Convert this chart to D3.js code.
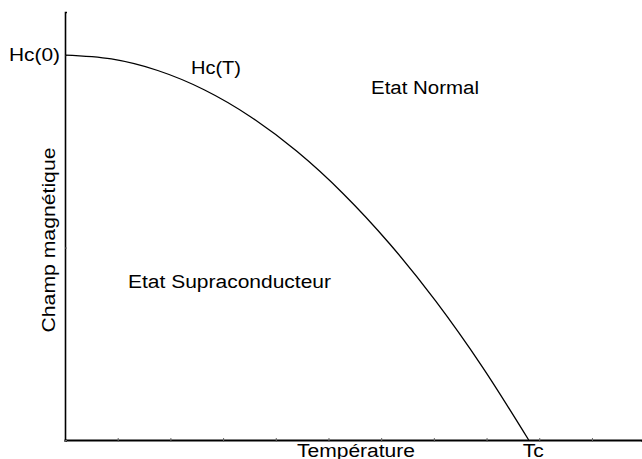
<!DOCTYPE html>
<html>
<head>
<meta charset="utf-8">
<script src="https://cdn.jsdelivr.net/npm/d3@7"></script>
<style>
  body { margin: 0; background: #fff; }
  text { font-family: "Liberation Sans", Arial, sans-serif; fill: #000; }
</style>
</head>
<body>
<div id="chart"></div>
<script>
// temperature in tick units, critical temperature Tc = 8.8
const temps = [0, 0.88, 1.76, 2.64, 3.52, 4.4, 5.28, 6.16, 7.04, 7.92, 8.8];
// critical field, relative to Hc(0)
const fields = [1, 0.99, 0.96, 0.91, 0.84, 0.75, 0.64, 0.51, 0.36, 0.19, 0];
const xTicks = [0, 1, 2, 3, 4, 5, 6, 7, 8, 9, 10];
const yTicks = [0, 0.5, 1];
const tcValue = 8.8;
const hc0Value = 1;

const width = 642, height = 459;

const svg = d3.select("#chart")
    .append("svg")
    .attr("width", width)
    .attr("height", height);

const x = d3.scaleLinear().domain([0, 10.95]).range([65, 642]);
const y = d3.scaleLinear().domain([0, 1.112]).range([440, 12]);

// axes
const xAxis = svg.append("g")
    .attr("transform", "translate(0," + y(0) + ")")
    .call(d3.axisBottom(x).tickValues(xTicks).tickSize(2).tickFormat(""));
xAxis.select(".domain").attr("stroke", "#000").attr("stroke-width", 2);
xAxis.selectAll(".tick line").attr("stroke", "#666").attr("y1", -2);

const yAxis = svg.append("g")
    .attr("transform", "translate(" + x(0) + ",0)")
    .call(d3.axisRight(y).tickValues(yTicks).tickSize(2).tickFormat(""));
yAxis.select(".domain").attr("stroke", "#000").attr("stroke-width", 1.6);
yAxis.selectAll(".tick line").attr("stroke", "#666");

// Hc(T) curve
const pts = temps.map((t, i) => [t, fields[i]]);
const line = d3.line()
    .x(d => x(d[0]))
    .y(d => y(d[1]))
    .curve(d3.curveMonotoneX);

svg.append("path")
    .datum(pts)
    .attr("d", line)
    .attr("fill", "none")
    .attr("stroke", "#000")
    .attr("stroke-width", 1.3);

// labels
function label(txt, px, py, len, anchor) {
    return svg.append("text")
        .attr("x", px)
        .attr("y", py)
        .attr("font-size", 18)
        .attr("text-anchor", anchor || "start")
        .attr("textLength", len)
        .attr("lengthAdjust", "spacingAndGlyphs")
        .text(txt);
}

label("Hc(0)", x(0) - 56, y(hc0Value) + 6, 51);
label("Hc(T)", 191, 74, 50);
label("Etat Normal", 371, 94, 108);
label("Etat Supraconducteur", 128, 288, 203);
label("Température", 297, 457, 118);
label("Tc", x(tcValue) - 6, 457, 21);

svg.append("text")
    .attr("transform", "translate(55,240) rotate(-90)")
    .attr("font-size", 18)
    .attr("text-anchor", "middle")
    .attr("textLength", 185)
    .attr("lengthAdjust", "spacingAndGlyphs")
    .text("Champ magnétique");
</script>
</body>
</html>
